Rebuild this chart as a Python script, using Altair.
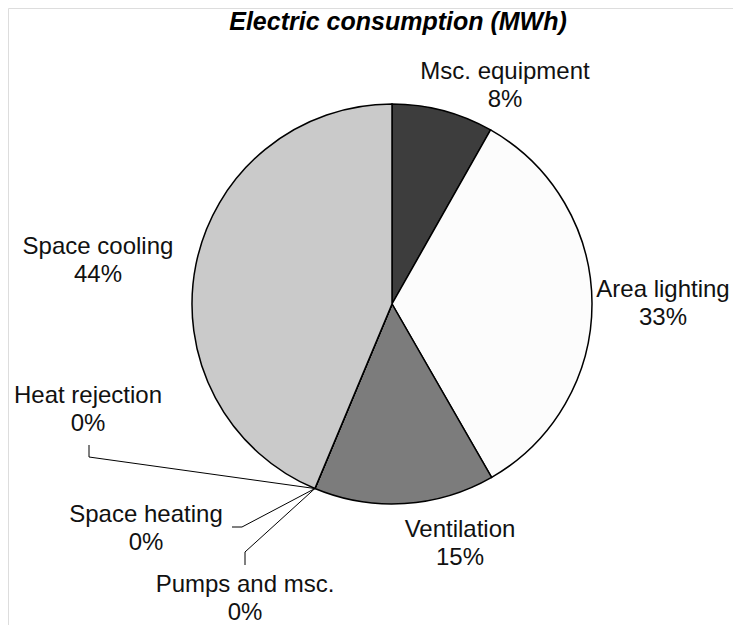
import math
import altair as alt
import pandas as pd

# ---- data ----
categories = ["Msc. equipment", "Area lighting", "Ventilation", "Pumps and msc.",
              "Space heating", "Heat rejection", "Space cooling"]
shares = [8.2, 33.5, 14.6, 0.0, 0.0, 0.0, 43.7]
pct_labels = ["8%", "33%", "15%", "0%", "0%", "0%", "44%"]
title_text = "Electric consumption (MWh)"

# ---- styling / layout ----
colors = ["#3d3d3d", "#fcfcfc", "#7c7c7c", "#999999", "#999999", "#999999", "#cacaca"]
W, H = 725, 617
CX, CY, R = 384, 296, 200
FONT = "Liberation Sans"
FS = 24
# label anchor (center x, first-line baseline y) in svg pixels
label_pos = {
    "Msc. equipment": (497, 71),
    "Area lighting": (655, 289),
    "Ventilation": (452, 529),
    "Pumps and msc.": (237, 584),
    "Space heating": (138, 514),
    "Heat rejection": (80, 395),
    "Space cooling": (90, 246),
}
# leader line bend points for the tiny slices
leader_bends = {
    "Heat rejection": [(81, 449), (81, 437)],
    "Space heating": [(234, 519), (224, 519)],
    "Pumps and msc.": [(237, 544), (237, 557)],
}

total = sum(shares)
df = pd.DataFrame({
    "category": categories,
    "share": shares,
    "pct": pct_labels,
    "idx": list(range(len(categories))),
})
df["lx"] = [label_pos[c][0] for c in categories]
df["ly"] = [label_pos[c][1] for c in categories]
df["ly2"] = df["ly"] + 28

# leader segments: start on the pie rim at the slice angle
segs = []
cum = 0.0
for c, s in zip(categories, shares):
    mid = cum + s / 2
    cum += s
    if c in leader_bends:
        a = 2 * math.pi * mid / total
        px, py = CX + R * math.sin(a), CY - R * math.cos(a)
        pts = [(px, py)] + leader_bends[c]
        for (x1, y1), (x2, y2) in zip(pts[:-1], pts[1:]):
            segs.append({"x": x1, "y": y1, "x2": x2, "y2": y2})
seg_df = pd.DataFrame(segs)

pie = alt.Chart(df).mark_arc(radius=R, stroke="black", strokeWidth=1.5).encode(
    theta=alt.Theta("share:Q", stack=True),
    color=alt.Color("category:N", scale=alt.Scale(domain=categories, range=colors), legend=None),
    order=alt.Order("idx:Q"),
    x=alt.value(CX),
    y=alt.value(CY),
)

leaders = alt.Chart(seg_df).mark_rule(color="black", strokeWidth=1).encode(
    x=alt.X("x:Q", scale=None), y=alt.Y("y:Q", scale=None),
    x2="x2:Q", y2="y2:Q",
)

names = alt.Chart(df).mark_text(font=FONT, fontSize=FS, align="center",
                                baseline="alphabetic", color="#111").encode(
    x=alt.X("lx:Q", scale=None), y=alt.Y("ly:Q", scale=None), text="category:N")

pcts = alt.Chart(df).mark_text(font=FONT, fontSize=FS, align="center",
                               baseline="alphabetic", color="#111").encode(
    x=alt.X("lx:Q", scale=None), y=alt.Y("ly2:Q", scale=None), text="pct:N")

title = alt.Chart(pd.DataFrame({"t": [title_text]})).mark_text(
    font=FONT, fontSize=25, fontWeight="bold", fontStyle="italic",
    align="center", baseline="alphabetic", color="#000").encode(
    x=alt.value(390), y=alt.value(22), text="t:N")

chart = alt.layer(pie, leaders, names, pcts, title).properties(
    width=W, height=H,
    autosize=alt.AutoSizeParams(type="none"),
    padding=0,
).configure_view(stroke=None).configure(background="white")

chart.save("out.html", embed_options={"renderer": "svg", "actions": False})
